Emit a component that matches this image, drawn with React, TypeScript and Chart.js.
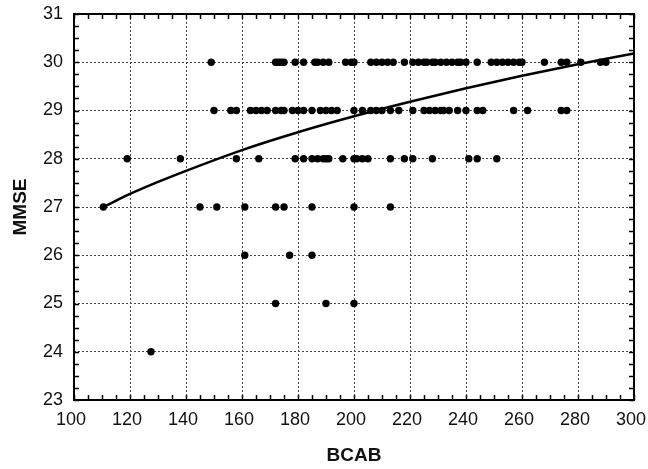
import React, { useEffect, useRef } from 'react';
import { Chart, registerables } from 'chart.js';

Chart.register(...registerables);

const bcabAt30 = [149, 172, 173, 174, 175, 179, 182, 186, 187, 189, 191, 197, 199, 200, 206, 208, 210, 212, 214, 218, 221, 223, 225, 226, 228, 229, 231, 233, 235, 237, 238, 240, 244, 249, 251, 253, 255, 257, 259, 260, 268, 274, 276, 281, 288, 290];
const bcabAt29 = [150, 156, 158, 163, 165, 167, 169, 172, 174, 175, 178, 180, 182, 185, 188, 190, 192, 194, 200, 203, 206, 208, 210, 213, 216, 221, 225, 227, 229, 231, 232, 234, 237, 240, 244, 246, 257, 262, 274, 276];
const bcabAt28 = [119, 138, 158, 166, 179, 182, 185, 187, 189, 190, 191, 196, 200, 201, 203, 205, 213, 218, 221, 228, 241, 244, 251];
const bcabAt27 = [110.5, 145, 151, 161, 172, 175, 185, 200, 213];
const bcabAt26 = [161, 177, 185];
const bcabAt25 = [172, 190, 200];
const bcabAt24 = [127.5];

const mmseLevels = [30, 29, 28, 27, 26, 25, 24];
const bcabByLevel = [bcabAt30, bcabAt29, bcabAt28, bcabAt27, bcabAt26, bcabAt25, bcabAt24];

// fitted curve
const fitX = [110.5, 120, 130, 140, 160, 180, 200, 220, 240, 260, 280, 300];
const fitY = [27.0, 27.27, 27.52, 27.75, 28.18, 28.55, 28.88, 29.18, 29.46, 29.72, 29.96, 30.18];

const xMin = 100, xMax = 300, xStep = 20, xMinorStep = 5;
const yMin = 23, yMax = 31, yStep = 1, yMinorStep = 0.25;

const framePlugin = {
  id: 'frameTicks',
  afterDatasetsDraw(chart: any) {
    const { ctx, chartArea: a, scales } = chart;
    const xs = scales.x, ys = scales.y;
    ctx.save();
    ctx.strokeStyle = '#000';
    ctx.lineWidth = 1.5;
    const len = 5;
    ctx.beginPath();
    for (let v = xMin; v <= xMax + 1e-9; v += xMinorStep) {
      const px = Math.round(xs.getPixelForValue(v)) + 0.5;
      ctx.moveTo(px, a.bottom); ctx.lineTo(px, a.bottom - len);
      ctx.moveTo(px, a.top); ctx.lineTo(px, a.top + len);
    }
    for (let v = yMin; v <= yMax + 1e-9; v += yMinorStep) {
      const py = Math.round(ys.getPixelForValue(v)) + 0.5;
      ctx.moveTo(a.left, py); ctx.lineTo(a.left + len, py);
      ctx.moveTo(a.right, py); ctx.lineTo(a.right - len, py);
    }
    ctx.stroke();
    ctx.lineWidth = 2;
    ctx.strokeRect(a.left, a.top, a.right - a.left, a.bottom - a.top);
    ctx.restore();
  },
};

export default function App() {
  const ref = useRef<HTMLCanvasElement | null>(null);
  useEffect(() => {
    document.body.style.margin = '0';
    const points = mmseLevels.flatMap((m, i) => bcabByLevel[i].map((b) => ({ x: b, y: m })));
    const curve = fitX.map((x, i) => ({ x, y: fitY[i] }));
    const chart = new Chart(ref.current as HTMLCanvasElement, {
      type: 'scatter',
      data: {
        datasets: [
          {
            type: 'line',
            data: curve,
            borderColor: '#000',
            borderWidth: 2.5,
            pointRadius: 0,
            cubicInterpolationMode: 'monotone',
            fill: false,
          } as any,
          {
            data: points,
            backgroundColor: '#000',
            borderColor: '#000',
            pointRadius: 3.7,
            pointBorderWidth: 0,
          },
        ],
      },
      options: {
        animation: false,
        responsive: false,
        events: [],
        layout: { padding: { left: 0, right: 14, top: 14, bottom: 0 } },
        plugins: { legend: { display: false }, tooltip: { enabled: false } },
        scales: {
          x: {
            type: 'linear',
            min: xMin,
            max: xMax,
            border: { display: false, dash: [2, 2] },
            grid: { color: '#444', lineWidth: 1, drawTicks: false },
            ticks: {
              stepSize: xStep,
              padding: 9,
              labelOffset: -3,
              color: '#111',
              font: { family: 'Liberation Sans, Arial, sans-serif', size: 18 },
              maxRotation: 0,
            },
            title: {
              display: true,
              text: 'BCAB',
              color: '#111',
              font: { family: 'Liberation Sans, Arial, sans-serif', size: 19, weight: 'bold' },
              padding: { top: 0, bottom: 2 },
            },
            afterFit(scale: any) {
              scale.height = 69;
              scale.paddingLeft = 0;
              scale.paddingRight = 0;
            },
          },
          y: {
            type: 'linear',
            min: yMin,
            max: yMax,
            border: { display: false, dash: [2, 2] },
            grid: { color: '#444', lineWidth: 1, drawTicks: false },
            ticks: {
              stepSize: yStep,
              padding: 11,
              color: '#111',
              font: { family: 'Liberation Sans, Arial, sans-serif', size: 18 },
            },
            title: {
              display: true,
              text: 'MMSE',
              color: '#111',
              font: { family: 'Liberation Sans, Arial, sans-serif', size: 19, weight: 'bold' },
              padding: { top: 9, bottom: 0 },
            },
            afterFit(scale: any) {
              scale.width = 74;
              scale.paddingTop = 0;
              scale.paddingBottom = 0;
            },
          },
        },
      },
      plugins: [framePlugin],
    } as any);
    return () => chart.destroy();
  }, []);
  return (
    <div style={{ position: 'fixed', left: 0, top: 0, width: 648, height: 469, background: '#fff' }}>
      <canvas ref={ref} width={648} height={469} style={{ width: 648, height: 469, display: 'block' }} />
    </div>
  );
}
